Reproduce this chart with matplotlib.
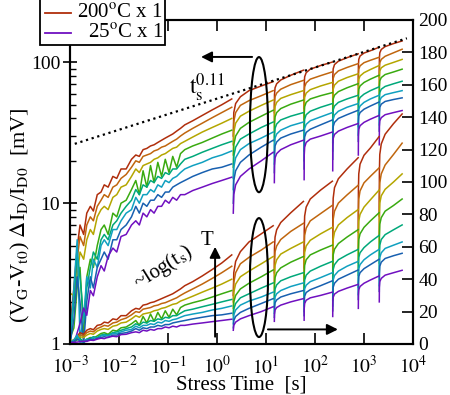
import numpy as np
import matplotlib
matplotlib.use('Agg')
import matplotlib.pyplot as plt
from matplotlib.patches import Ellipse, Rectangle
from matplotlib.lines import Line2D

plt.rcParams['font.family'] = ['Liberation Serif', 'DejaVu Serif']
plt.rcParams['mathtext.fontset'] = 'stix'

# ---------------- data ----------------
# total stress time [s]; the curves restart (after a measurement break) at the indices below
stress_time = [
    0.001, 0.0012, 0.0014, 0.0016, 0.0019, 0.0022, 0.0026, 0.003, 0.0036, 0.0043,
    0.005, 0.006, 0.0075, 0.009, 0.011, 0.014, 0.018, 0.022, 0.026, 0.031,
    0.037, 0.044, 0.052, 0.062, 0.074, 0.088, 0.105, 0.125, 0.15, 0.18,
    0.22, 0.32, 0.5, 0.8, 1.25, 2.0,
    2.15, 2.2, 2.4, 3.0, 4.5, 8.0, 14.0,
    14.8, 14.9, 15.3, 16.5, 20, 32, 58,
    60, 60.3, 61.5, 66, 80, 130, 226,
    230, 231, 235, 250, 300, 450, 760,
    766, 769, 782, 830, 1000, 1350, 2030,
    2050, 2060, 2100, 2250, 2700, 4000, 6000,
]
segment_starts = [0, 36, 43, 50, 57, 64, 71, 78]

# (V_G - V_t0) * dI_D / I_D0  [mV]
dv_200C = [1.3, 2.5, 4.8, 7.0, 6.0, 8.5, 9.5, 8.8, 11.5, 12.0, 13.5, 13.0, 15.5, 15.0, 17.5,
           17.5, 20.5, 22.0, 21.5, 24.0, 24.5, 25.5, 26.0, 27.0, 28.0, 29.0, 30.0, 31.0, 32.5,
           34.0, 36.0, 38.5, 42.0, 46.0, 50.0, 55.0,
           30, 44, 51, 57, 63, 68, 73,
           44, 59, 66, 70.5, 75, 81, 88,
           47, 70, 79, 84.5, 89.5, 95, 100.5,
           53, 80, 90, 96.5, 102, 108, 115,
           69, 95, 105, 111, 116.5, 121, 128,
           79, 106, 117, 123.5, 129.5, 136, 142]
dv_175C = [1.2, 2.0, 4.0, 5.8, 5.0, 7.0, 8.0, 7.5, 9.5, 10.5, 11.5, 11.0, 13.0, 13.5, 15.0,
           16.0, 18.0, 20.0, 19.5, 21.5, 22.0, 22.5, 23.5, 24.0, 25.0, 25.5, 26.5, 27.5, 28.5,
           30.0, 31.5, 34.0, 37.0, 40.5, 44.0, 48.0,
           26, 38, 44, 49.5, 53.5, 58, 63,
           38, 51, 57, 60.5, 64.5, 69.5, 74.5,
           39.5, 59, 67, 71.5, 76, 80.5, 85.6,
           45.5, 68, 77, 82, 87, 92, 98,
           59, 81, 89.5, 94.5, 99.5, 103.5, 108.7,
           67, 90, 99.5, 105, 110.5, 117, 124]
dv_150C = [2.3, 2.2, 3.0, 4.5, 4.0, 5.5, 6.5, 6.0, 8.0, 9.0, 9.5, 9.0, 11.0, 11.5, 13.0,
           13.5, 15.5, 17.5, 16.5, 18.5, 19.0, 19.5, 20.5, 21.0, 22.0, 22.5, 23.5, 24.5, 25.0,
           26.5, 27.5, 29.5, 32.0, 34.5, 37.0, 40.0,
           22, 32, 37, 41.5, 45, 49.5, 54,
           32, 43.5, 48.5, 52, 55.5, 59, 63,
           33.5, 50, 56.5, 60.5, 64, 68, 72,
           38, 57, 64.5, 69, 73.5, 78, 83,
           50, 68.5, 76, 80, 84.5, 89, 95,
           59, 79, 87, 91.5, 95.5, 100, 105]
dv_125C = [1.1, 1.3, 2.5, 3.5, 1.2, 3.0, 4.0, 3.5, 5.0, 6.5, 7.0, 6.0, 8.5, 8.0, 10.0,
           10.5, 12.5, 14.5, 11.5, 17.0, 13.0, 18.5, 14.0, 19.5, 15.5, 20.5, 16.5, 21.5, 18.0,
           22.5, 24.0, 25.5, 27.0, 29.0, 31.0, 33.0,
           18, 26, 30, 34, 37.5, 41.5, 45.7,
           27.5, 37, 41, 44, 47, 50.5, 54,
           28.5, 43, 48.5, 52, 55, 58, 61,
           32.5, 48.5, 55, 58.5, 62, 66, 70.6,
           42.5, 58.5, 64.5, 68, 72, 76, 81,
           50, 67, 74, 78, 82, 85.5, 89.5]
dv_100C = [1.0, 2.0, 4.5, 3.0, 1.5, 2.5, 3.5, 4.5, 4.0, 5.5, 6.0, 5.5, 7.0, 7.5, 8.5,
           9.5, 10.5, 12.5, 11.5, 13.5, 13.0, 14.5, 14.0, 15.5, 15.0, 16.5, 16.0, 17.5, 17.5,
           19.0, 20.5, 21.5, 23.0, 24.5, 26.0, 27.5,
           15, 21.5, 25, 28.5, 31, 34.5, 37.7,
           22.5, 30.5, 34, 36.5, 39, 41.5, 44,
           23.5, 35, 39.5, 42.5, 45, 48, 51,
           27, 40.5, 46, 49, 52, 55, 58.4,
           35, 48.5, 53.5, 56.3, 59.5, 63, 67,
           41.5, 55.5, 61, 64.5, 67.5, 70.5, 73.5]
dv_75C = [1.0, 2.5, 5.5, 1.1, 1.5, 3.0, 2.5, 4.0, 3.5, 5.0, 5.5, 5.0, 6.5, 6.5, 7.5,
          8.5, 9.0, 11.0, 10.0, 11.5, 11.5, 12.5, 12.0, 13.5, 13.0, 14.5, 14.0, 15.0, 15.5,
          16.5, 17.5, 18.5, 19.5, 21.0, 22.0, 23.5,
          12.5, 18, 21, 24, 26.5, 29, 32,
          19, 26, 29, 31, 33, 35.5, 37.7,
          20, 30, 34, 36.3, 38.5, 41, 44,
          23.5, 35, 39.5, 42.3, 45, 48, 51,
          30.5, 42, 46.5, 49, 52, 55, 58.4,
          36, 48.5, 53.5, 56.3, 59, 61, 63]
dv_50C = [1.0, 1.5, 3.0, 2.0, 1.0, 2.0, 3.0, 2.5, 3.5, 4.0, 4.5, 4.0, 5.5, 5.5, 6.5,
          7.0, 8.0, 9.5, 8.5, 10.0, 9.5, 10.5, 10.5, 11.5, 11.0, 12.0, 12.0, 13.0, 13.5,
          14.0, 14.5, 15.5, 16.5, 17.5, 18.0, 19.0,
          10, 14.5, 17, 19.5, 22, 25, 28,
          16.5, 22.5, 25.5, 27.2, 29, 31, 33,
          17.5, 26, 29.5, 31.8, 33.5, 36, 39,
          20.5, 31, 35, 37.5, 40, 42.5, 45.7,
          27.5, 38, 41.7, 44, 46.5, 49, 52.3,
          32.5, 43.5, 48, 50.5, 52.8, 54.5, 56]
dv_25C = [1.0, 1.0, 1.2, 1.4, 1.8, 1.6, 2.4, 2.2, 3.0, 3.6, 3.3, 4.2, 4.8, 4.5, 5.8,
          6.0, 7.0, 7.5, 7.0, 8.5, 8.0, 9.0, 8.5, 9.5, 9.5, 10.5, 10.0, 11.0, 10.5,
          11.5, 11.5, 12.3, 13.0, 13.8, 14.5, 15.3,
          8.5, 11.5, 13.5, 15.5, 17.5, 20, 23,
          14, 18.5, 21, 22.5, 24, 26, 28,
          14.7, 22, 25, 27, 28.5, 30, 32,
          17, 25.5, 28.8, 30.8, 32.5, 34.5, 36.8,
          22, 30.5, 33.5, 35.5, 37.5, 39.5, 42,
          26, 35, 38.5, 40.5, 42.5, 44, 45.5]

curve_colors = ['#b02e0c', '#c0660e', '#b4a600', '#3aaa10', '#00a87a', '#10a0c0', '#1860b0', '#7010c0']

# t_s^0.11 guide line (end points)
guide_t = [1.25e-3, 7.5e3]
guide_v = [26.4, 148.3]

legend_labels = [r'200$^{\rm o}$C x 1', r'25$^{\rm o}$C x 1']

# ---------------- figure ----------------
W, H = 450, 395
fig = plt.figure(figsize=(W / 100, H / 100), dpi=100)
ax_l, ax_r, ax_t, ax_b = 70, 413, 20, 344
ax = fig.add_axes([ax_l / W, 1 - ax_b / H, (ax_r - ax_l) / W, (ax_b - ax_t) / H])
ax2 = ax.twinx()

t = np.array(stress_time, dtype=float)
curves = [dv_200C, dv_175C, dv_150C, dv_125C, dv_100C, dv_75C, dv_50C, dv_25C]
for vals, col in zip(curves, curve_colors):
    v = np.array(vals, dtype=float)
    for s, e in zip(segment_starts[:-1], segment_starts[1:]):
        ax.plot(t[s:e], v[s:e], color=col, lw=1.1, solid_joinstyle='round')
        ax2.plot(t[s:e], v[s:e], color=col, lw=1.1, solid_joinstyle='round')

ax.plot(guide_t, guide_v, color='k', ls=':', lw=1.6)

ax.set_xscale('log')
ax.set_yscale('log')
ax.set_xlim(1e-3, 1e4)
ax.set_ylim(1, 200)
ax2.set_ylim(0, 200)
ax2.set_yticks(np.arange(0, 201, 20))

tick_fs = 14
ax.set_yticks([1, 10, 100])
ax.set_yticklabels(['1', '10', '100'])
ax.set_xticks([10.0 ** k for k in range(-3, 5)])
ax.set_xticklabels([r'$10^{%d}$' % k for k in range(-3, 5)])
ax.tick_params(axis='x', which='major', direction='in', length=8, width=1.2,
               top=True, labelsize=tick_fs, pad=8)
ax.tick_params(axis='x', which='minor', direction='in', length=4, width=1.0, top=True)
ax.tick_params(axis='y', which='major', direction='inout', length=10, width=1.2,
               labelsize=tick_fs, pad=2)
ax.tick_params(axis='y', which='minor', direction='in', length=4, width=1.0)
ax2.tick_params(axis='y', which='major', direction='in', length=8, width=1.2,
                labelsize=tick_fs, pad=4)
for a in (ax, ax2):
    for sp in a.spines.values():
        sp.set_linewidth(1.5)

ax.set_xlabel('Stress Time  [s]', fontsize=15, labelpad=-1)
fig.text(20 / W, 1 - 215 / H,
         r'(V$_\mathrm{G}$-V$_\mathrm{t0}$) $\Delta$I$_\mathrm{D}$/I$_\mathrm{D0}$  [mV]',
         rotation=90, ha='center', va='center', fontsize=16)

# annotations (axes fraction coordinates)
ax.add_patch(Ellipse((0.551, 0.677), 0.0525, 0.417, transform=ax.transAxes,
                     fill=False, ec='k', lw=1.5, zorder=5))
ax2.add_patch(Ellipse((0.551, 0.205), 0.0525, 0.367, transform=ax.transAxes,
                      fill=False, ec='k', lw=1.5, zorder=5))
arrow = dict(arrowstyle='-|>', color='k', lw=1.4, mutation_scale=16, shrinkA=0, shrinkB=0)
ax2.annotate('', xy=(0.382, 0.886), xytext=(0.531, 0.886), xycoords='axes fraction', arrowprops=arrow)
ax2.annotate('', xy=(0.781, 0.045), xytext=(0.577, 0.045), xycoords='axes fraction', arrowprops=arrow)
ax2.annotate('', xy=(0.423, 0.300), xytext=(0.423, 0.0225), xycoords='axes fraction', arrowprops=arrow)
ax2.text(0.398, 0.318, 'T', transform=ax.transAxes, fontsize=15, ha='center', va='center')
ax2.text(0.272, 0.235, r'~log(t$_\mathrm{s}$)', transform=ax.transAxes, fontsize=15,
         rotation=32, ha='center', va='center')
ax2.text(0.40, 0.79, r'$\mathrm{t}_\mathrm{s}^{0.11}$', transform=ax.transAxes, fontsize=17,
         ha='center', va='center')

# legend box (drawn in figure pixels)
def fx(x):
    return x / W
def fy(y):
    return 1 - y / H
fig.patches.append(Rectangle((fx(40), fy(45)), fx(165) - fx(40), fy(-10) - fy(45),
                             transform=fig.transFigure, fc='white', ec='k', lw=1.3, zorder=10))
for yy, col, lab in [(13, curve_colors[0], legend_labels[0]), (33, curve_colors[-1], legend_labels[1])]:
    fig.lines.append(Line2D([fx(45), fx(71)], [fy(yy), fy(yy)], transform=fig.transFigure,
                            color=col, lw=1.3, zorder=11))
    fig.text(fx(163), fy(yy), lab, ha='right', va='center', fontsize=15, zorder=12)

fig.savefig('out.png', dpi=100)
